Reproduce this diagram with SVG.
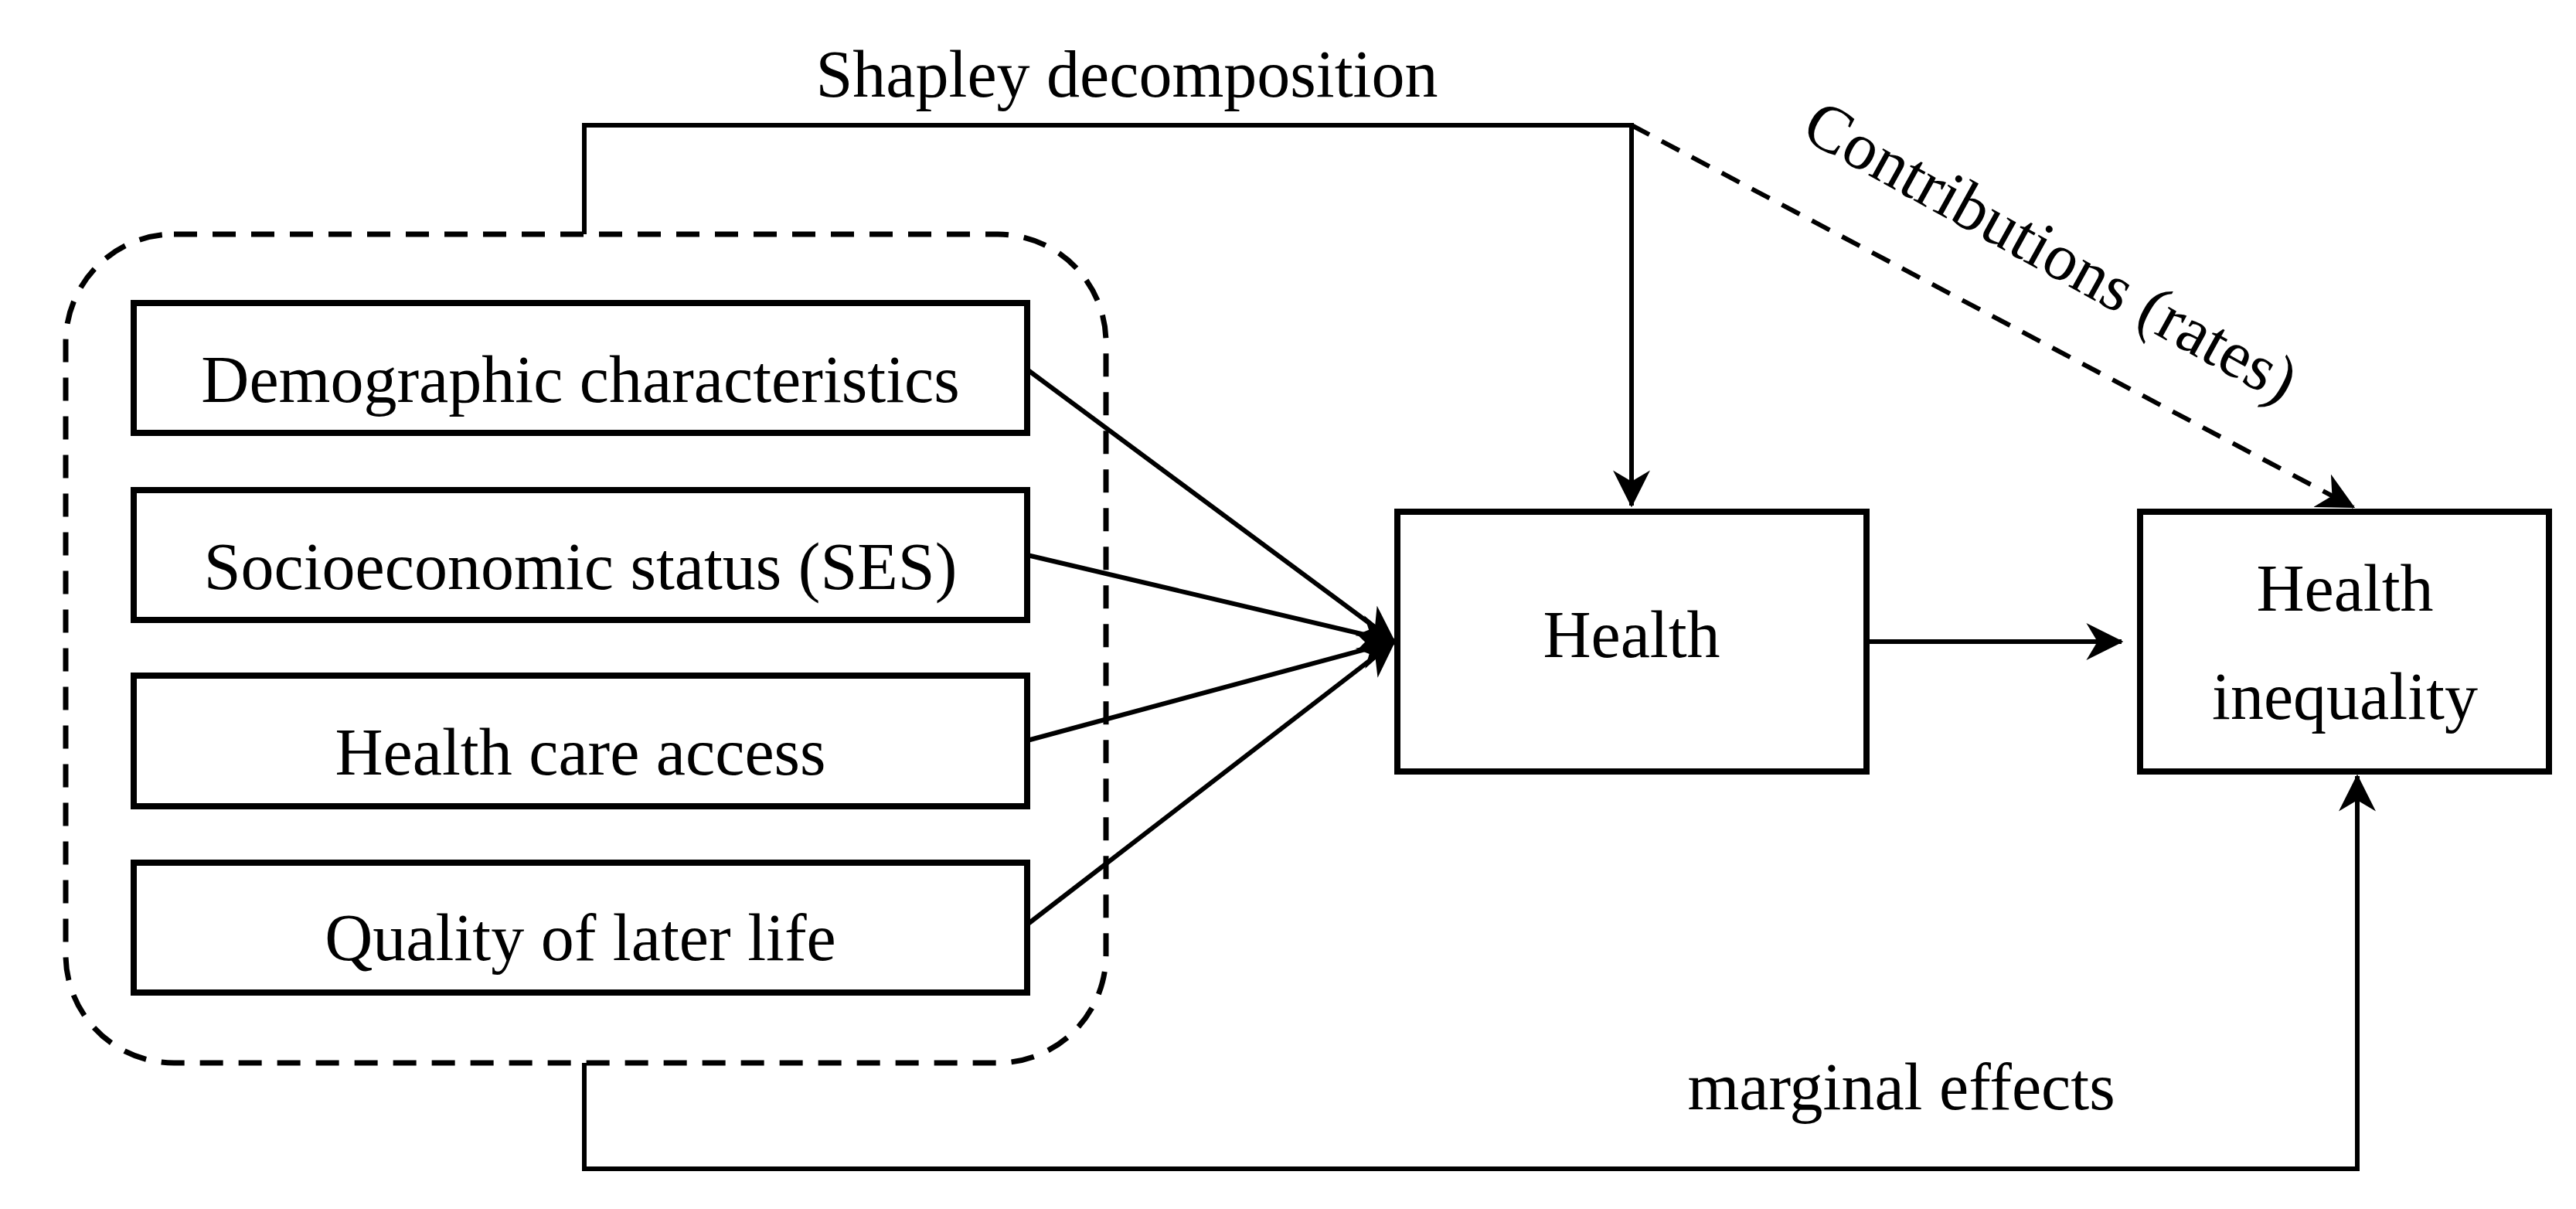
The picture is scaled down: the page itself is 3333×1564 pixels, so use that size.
<svg xmlns="http://www.w3.org/2000/svg" width="3333" height="1564" viewBox="0 0 3333 1564">
<style>
.box{fill:#fff;stroke:#000;stroke-width:8}
.t{font-family:"Liberation Serif","Times New Roman",serif;font-size:86px;fill:#000;text-anchor:middle}
.ln{fill:none;stroke:#000;stroke-width:6}
</style>
<defs>
<marker id="ah" viewBox="0 0 20 20" refX="19" refY="10" markerWidth="10" markerHeight="10" markerUnits="userSpaceOnUse" orient="auto">
<path d="M0,0 L20,10 L0,20 L6,10 Z" fill="#000"/>
</marker>
<marker id="ahb" viewBox="0 0 20 20" refX="19" refY="10" markerWidth="8" markerHeight="8" orient="auto">
<path d="M0,0 L20,10 L0,20 L6,10 Z" fill="#000"/>
</marker>
</defs>
<rect width="3333" height="1564" fill="#fff"/>
<g id="group">
<rect x="85" y="303" width="1346" height="1072" rx="140" ry="140" fill="none" stroke="#000" stroke-width="7" stroke-dasharray="30,20"/>
</g>
<g id="connectors">
<polyline class="ln" points="756,303 756,162 2111,162 2111,654" marker-end="url(#ahb)"/>
<line class="ln" x1="2111" y1="162" x2="3045" y2="656" stroke-dasharray="26,18" marker-end="url(#ahb)"/>
<line class="ln" x1="2415" y1="830" x2="2745" y2="830" marker-end="url(#ahb)"/>
<polyline class="ln" points="756,1375 756,1512 3050,1512 3050,1004" marker-end="url(#ahb)"/>
<line class="ln" x1="1329" y1="478" x2="1804" y2="830" marker-end="url(#ahb)"/>
<line class="ln" x1="1329" y1="718" x2="1804" y2="830" marker-end="url(#ahb)"/>
<line class="ln" x1="1329" y1="958" x2="1804" y2="830" marker-end="url(#ahb)"/>
<line class="ln" x1="1329" y1="1196" x2="1804" y2="830" marker-end="url(#ahb)"/>
<text class="t" x="1458" y="125">Shapley decomposition</text>
<text class="t" x="2640" y="350" transform="rotate(29 2640 350)">Contributions (rates)</text>
<text class="t" x="2460" y="1435">marginal effects</text>
</g>
<g id="n1"><rect class="box" x="173" y="392" width="1156" height="168"/><text class="t" x="751" y="520">Demographic characteristics</text></g>
<g id="n2"><rect class="box" x="173" y="634" width="1156" height="168"/><text class="t" x="751" y="762">Socioeconomic status (SES)</text></g>
<g id="n3"><rect class="box" x="173" y="874" width="1156" height="169"/><text class="t" x="751" y="1002">Health care access</text></g>
<g id="n4"><rect class="box" x="173" y="1116" width="1156" height="168"/><text class="t" x="751" y="1242">Quality of later life</text></g>
<g id="health"><rect class="box" x="1808" y="662" width="607" height="336"/><text class="t" x="2111" y="850">Health</text></g>
<g id="inequality"><rect class="box" x="2769" y="662" width="529" height="336"/><text class="t" x="3034" y="790">Health</text><text class="t" x="3034" y="930">inequality</text></g>
</svg>
